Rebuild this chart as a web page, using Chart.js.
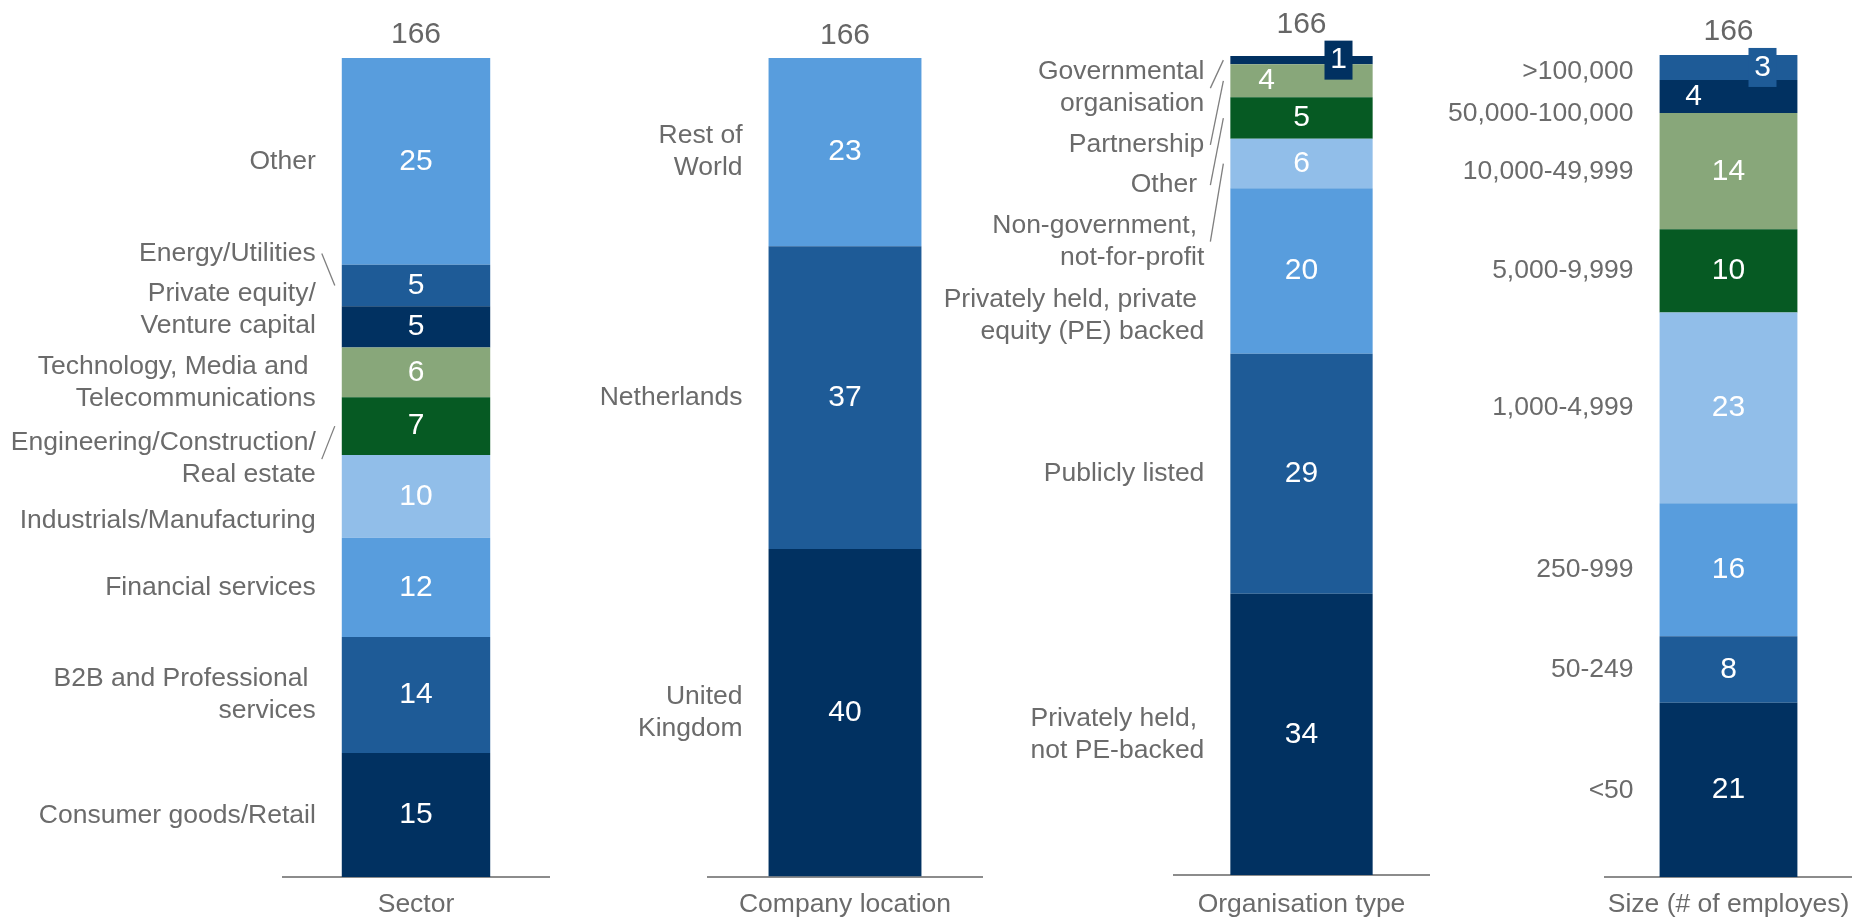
<!DOCTYPE html>
<html>
<head>
<meta charset="utf-8">
<script src="https://cdn.jsdelivr.net/npm/chart.js@4.4.1/dist/chart.umd.min.js"></script>
<style>
html,body{margin:0;padding:0;background:#fff;}
#wrap{position:relative;width:1852px;height:918px;overflow:hidden;}
.panel{position:absolute;top:0;height:918px;}
</style>
</head>
<body>
<div id="wrap">
  <div class="panel" style="left:0px"><canvas id="c0" width="560" height="918"></canvas></div>
  <div class="panel" style="left:560px"><canvas id="c1" width="430" height="918"></canvas></div>
  <div class="panel" style="left:930px"><canvas id="c2" width="505" height="918"></canvas></div>
  <div class="panel" style="left:1420px"><canvas id="c3" width="432" height="918"></canvas></div>
</div>
<script>
// data (bottom segment first)
const sectorCats = [["Consumer goods/Retail"], ["B2B and Professional ", "services"], ["Financial services"], ["Industrials/Manufacturing"], ["Engineering/Construction/", "Real estate"], ["Technology, Media and ", "Telecommunications"], ["Private equity/", "Venture capital"], ["Energy/Utilities"], ["Other"]];
const sectorValues = [15, 14, 12, 10, 7, 6, 5, 5, 25];
const locationCats = [["United", "Kingdom"], ["Netherlands"], ["Rest of", "World"]];
const locationValues = [40, 37, 23];
const orgCats = [["Privately held, ", "not PE-backed"], ["Publicly listed"], ["Privately held, private ", "equity (PE) backed"], ["Non-government, ", "not-for-profit"], ["Other "], ["Partnership"], ["Governmental", "organisation"]];
const orgValues = [34, 29, 20, 6, 5, 4, 1];
const sizeCats = [["<50"], ["50-249"], ["250-999"], ["1,000-4,999"], ["5,000-9,999"], ["10,000-49,999"], ["50,000-100,000"], [">100,000"]];
const sizeValues = [21, 8, 16, 23, 10, 14, 4, 3];
const axisTitles = ["Sector", "Company location", "Organisation type", "Size (# of employes)"];
const totals = [166, 166, 166, 166];

// colours
const NAVY = "#013161", MID = "#1e5b97", BRIGHT = "#589ddd", LIGHT = "#91bee9", DKGREEN = "#065a23", SAGE = "#88a77a";
const FONT = "'Liberation Sans', Arial, sans-serif";
const GREY = "#6b6b6b";

// per-chart layout: label shifts (px from segment middle), leader lines, moved value labels
const panels = [
  { id: "c0", cats: sectorCats, values: sectorValues, colors: [NAVY, MID, BRIGHT, LIGHT, DKGREEN, SAGE, NAVY, MID, BRIGHT],
    labelDy: [1, 0, 0, 24, 33, 10, -17, -32, 0], leaders: [4, 7], valDx: {}, boxed: [],
    pad: { left: 283, right: 11, top: 58 }, titlePad: 14.5, totalGap: 23 },
  { id: "c1", cats: locationCats, values: locationValues, colors: [NAVY, MID, BRIGHT],
    labelDy: [0, 0, 0], leaders: [], valDx: {}, boxed: [],
    pad: { left: 148, right: 8, top: 58 }, titlePad: 15, totalGap: 22 },
  { id: "c2", cats: orgCats, values: orgValues, colors: [NAVY, MID, BRIGHT, LIGHT, DKGREEN, SAGE, NAVY],
    labelDy: [0, 0, 45, 78, 67, 64, 28], leaders: [3, 4, 5, 6], valDx: { 5: -35, 6: 37 }, boxed: [6],
    pad: { left: 244, right: 6, top: 56 }, titlePad: 16.5, totalGap: 31 },
  { id: "c3", cats: sizeCats, values: sizeValues, colors: [NAVY, MID, BRIGHT, LIGHT, DKGREEN, SAGE, NAVY, MID],
    labelDy: [1, 0, 0, 0, 0, 0, 17, 4], leaders: [], valDx: { 6: -35, 7: 34 }, boxed: [7],
    pad: { left: 185, right: 0, top: 55 }, titlePad: 14.5, totalGap: 23 }
];

const barLabels = {
  id: "barLabels",
  afterDatasetsDraw(chart, args, opts) {
    const p = opts.panel;
    const total = opts.total;
    const ctx = chart.ctx;
    ctx.save();
    let topY = Infinity, cx = 0;
    chart.data.datasets.forEach((ds, i) => {
      const bar = chart.getDatasetMeta(i).data[0];
      const top = Math.min(bar.y, bar.base), bottom = Math.max(bar.y, bar.base);
      const mid = (top + bottom) / 2;
      const left = bar.x - bar.width / 2;
      cx = bar.x;
      topY = Math.min(topY, top);

      // value inside the segment
      const vx = bar.x + (p.valDx[i] || 0);
      if (p.boxed.includes(i)) {
        ctx.fillStyle = p.colors[i];
        ctx.fillRect(vx - 14, mid - 19.5, 28, 39);
      }
      ctx.fillStyle = "#ffffff";
      ctx.font = "30px " + FONT;
      ctx.textAlign = "center";
      ctx.textBaseline = "middle";
      ctx.fillText(String(ds.data[0]), vx, mid);

      // category label on the left
      const ly = mid + p.labelDy[i];
      const lines = p.cats[i];
      ctx.fillStyle = GREY;
      ctx.font = "26.5px " + FONT;
      ctx.textAlign = "right";
      lines.forEach((t, j) => {
        ctx.fillText(t, left - 26, ly + (j - (lines.length - 1) / 2) * 32);
      });
      if (p.leaders.includes(i)) {
        ctx.strokeStyle = "#7f7f7f";
        ctx.lineWidth = 1.3;
        ctx.beginPath();
        ctx.moveTo(left - 20, ly);
        ctx.lineTo(left - 7, mid);
        ctx.stroke();
      }
    });
    // total above the bar
    ctx.fillStyle = "#666666";
    ctx.font = "30px " + FONT;
    ctx.textAlign = "center";
    ctx.textBaseline = "middle";
    ctx.fillText(String(total), cx, topY - p.totalGap);
    ctx.restore();
  }
};

panels.forEach((p, k) => {
  const sum = p.values.reduce((a, b) => a + b, 0);
  new Chart(document.getElementById(p.id), {
    type: "bar",
    data: {
      labels: [axisTitles[k]],
      datasets: p.values.map((v, i) => ({
        label: p.cats[i].join(" ").trim(),
        data: [v],
        backgroundColor: p.colors[i],
        borderWidth: 0,
        barPercentage: 0.558,
        categoryPercentage: 1
      }))
    },
    options: {
      responsive: false,
      animation: false,
      devicePixelRatio: 1,
      layout: { padding: { left: p.pad.left, right: p.pad.right, top: p.pad.top, bottom: 0 } },
      plugins: {
        legend: { display: false },
        tooltip: { enabled: false },
        barLabels: { panel: p, total: totals[k] }
      },
      scales: {
        x: {
          stacked: true,
          grid: { display: false, drawTicks: false },
          border: { display: true, color: "#8c8c8c", width: 2 },
          ticks: { display: false },
          title: { display: true, text: axisTitles[k], color: GREY, font: { family: FONT, size: 26.5, lineHeight: 1 }, padding: { top: p.titlePad, bottom: 0 } }
        },
        y: { stacked: true, display: false, min: 0, max: sum }
      }
    },
    plugins: [barLabels]
  });
});
</script>
</body>
</html>
